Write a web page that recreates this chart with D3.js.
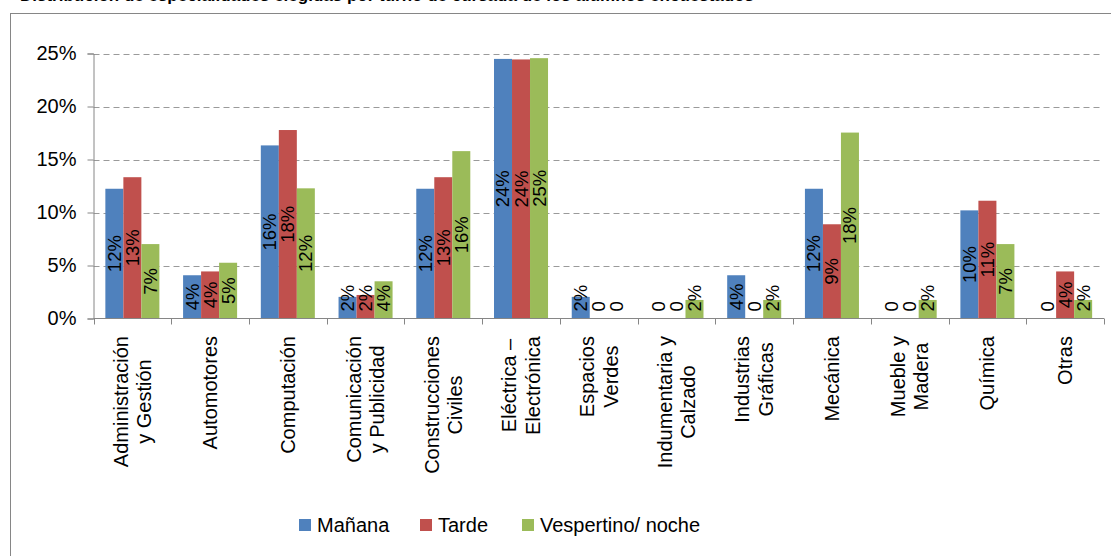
<!DOCTYPE html>
<html>
<head>
<meta charset="utf-8">
<script src="https://cdn.jsdelivr.net/npm/d3@7"></script>
<style>
  body { margin: 0; background: #fff; }
  svg { display: block; font-family: "Liberation Sans", Arial, sans-serif; }
</style>
</head>
<body>
<div id="chart"></div>
<script>
// datos (porcentaje por turno)
const categories = [
  ["Administración", "y Gestión"],
  ["Automotores"],
  ["Computación"],
  ["Comunicación", "y Publicidad"],
  ["Construcciones", "Civiles"],
  ["Eléctrica –", "Electrónica"],
  ["Espacios", "Verdes"],
  ["Indumentaria y", "Calzado"],
  ["Industrias", "Gráficas"],
  ["Mecánica"],
  ["Mueble y", "Madera"],
  ["Química"],
  ["Otras"]
];
const seriesNames = ["Mañana", "Tarde", "Vespertino/ noche"];
const seriesColors = ["#4F81BD", "#C0504D", "#9BBB59"];
const manana     = [12.24, 4.08, 16.33, 2.04, 12.24, 24.49, 2.04, 0, 4.08, 12.24, 0, 10.20, 0];
const tarde      = [13.33, 4.44, 17.78, 2.22, 13.33, 24.44, 0, 0, 0, 8.89, 0, 11.11, 4.44];
const vespertino = [7.02, 5.26, 12.28, 3.51, 15.79, 24.56, 0, 1.75, 1.75, 17.54, 1.75, 7.02, 1.75];
const yTicks = [0, 5, 10, 15, 20, 25];

const W = 1111, H = 556;
const svg = d3.select('#chart').append('svg')
  .attr('width', W).attr('height', H);

// marco del gráfico
svg.append('rect')
  .attr('x', 10.5).attr('y', 13.5)
  .attr('width', 1200).attr('height', 700)
  .attr('fill', 'none').attr('stroke', '#868686');

// título (cortado arriba)
svg.append('text')
  .attr('x', 20).attr('y', 1)
  .attr('font-size', 17).attr('font-weight', 'bold')
  .attr('fill', '#000')
  .text('Distribución de especialidades elegidas por turno de cursada de los alumnos encuestados');

const plotLeft = 93.5, plotRight = 1104, plotTop = 53.5, base = 318.5;

const x0 = d3.scaleBand()
  .domain(d3.range(categories.length))
  .range([plotLeft, plotRight]);
const bw = x0.bandwidth();
const gap = bw * 0.305;
const x1 = d3.scaleBand()
  .domain(d3.range(seriesNames.length))
  .range([gap / 2, bw - gap / 2]);
const y = d3.scaleLinear().domain([0, 25]).range([base, plotTop]);

// líneas de cuadrícula
svg.append('g').selectAll('line')
  .data(yTicks.filter(d => d > 0))
  .join('line')
  .attr('x1', plotLeft).attr('x2', 1100)
  .attr('y1', d => Math.round(y(d)) + 0.5).attr('y2', d => Math.round(y(d)) + 0.5)
  .attr('stroke', '#9a9a9a').attr('stroke-dasharray', '6,4');

// eje Y
const yAxis = svg.append('g')
  .attr('transform', `translate(${plotLeft},0)`)
  .call(d3.axisLeft(y).tickValues(yTicks).tickSize(6).tickPadding(11).tickFormat(d => d + '%'));
yAxis.select('.domain').attr('stroke', '#868686');
yAxis.selectAll('.tick line').attr('stroke', '#868686');
yAxis.selectAll('.tick text')
  .attr('font-size', 20).attr('fill', '#000')
  .attr('font-family', '"Liberation Sans", Arial, sans-serif')
  .attr('dy', '0.28em');

// barras
const all = [manana, tarde, vespertino];
const barData = [];
all.forEach((vals, s) => vals.forEach((v, i) => barData.push({ s, i, v })));

svg.append('g').selectAll('rect')
  .data(barData)
  .join('rect')
  .attr('x', d => x0(d.i) + x1(d.s))
  .attr('width', x1.bandwidth())
  .attr('y', d => y(d.v))
  .attr('height', d => base - y(d.v))
  .attr('fill', d => seriesColors[d.s]);

// etiquetas de datos (giradas)
const labels = svg.append('g').selectAll('text')
  .data(barData)
  .join('text')
  .attr('font-size', 18.5)
  .attr('fill', '#000')
  .attr('text-anchor', 'middle')
  .attr('dy', '0.35em')
  .text(d => d.v === 0 ? '0' : Math.round(d.v) + '%');
labels.each(function (d) {
  const len = this.getComputedTextLength();
  const cx = x0(d.i) + x1(d.s) + x1.bandwidth() / 2;
  const cy = Math.min((y(d.v) + base) / 2, base - 7 - len / 2);
  d3.select(this).attr('transform', `translate(${cx},${cy}) rotate(-90)`);
});

// eje X
svg.append('line')
  .attr('x1', plotLeft).attr('x2', plotRight)
  .attr('y1', base).attr('y2', base)
  .attr('stroke', '#868686');
const bounds = d3.range(categories.length + 1).map(i => plotLeft + i * x0.step());
svg.append('g').selectAll('line')
  .data(bounds)
  .join('line')
  .attr('x1', d => Math.round(d) + 0.5).attr('x2', d => Math.round(d) + 0.5)
  .attr('y1', base).attr('y2', base + 6)
  .attr('stroke', '#868686');

// etiquetas de categorías
const catG = svg.append('g').selectAll('g')
  .data(categories)
  .join('g');
catG.each(function (lines, i) {
  const g = d3.select(this);
  const n = lines.length;
  const texts = g.selectAll('text')
    .data(lines)
    .join('text')
    .attr('font-size', 20)
    .attr('fill', '#000')
    .attr('text-anchor', 'middle')
    .attr('x', 0)
    .attr('y', (l, k) => (k - (n - 1) / 2) * 23.5)
    .attr('dy', '0.35em')
    .text(l => l);
  let maxLen = 0;
  texts.each(function () { maxLen = Math.max(maxLen, this.getComputedTextLength()); });
  const cx = x0(i) + bw / 2;
  g.attr('transform', `translate(${cx},${336 + maxLen / 2}) rotate(-90)`);
});

// leyenda
const legendX = [299, 420, 522];
const legend = svg.append('g').selectAll('g')
  .data(seriesNames)
  .join('g')
  .attr('transform', (d, i) => `translate(${legendX[i]},519)`);
legend.append('rect')
  .attr('width', 12).attr('height', 12)
  .attr('fill', (d, i) => seriesColors[i]);
legend.append('text')
  .attr('x', 18).attr('y', 6)
  .attr('dy', '0.35em')
  .attr('font-size', 20)
  .attr('fill', '#000')
  .text(d => d);
</script>
</body>
</html>
